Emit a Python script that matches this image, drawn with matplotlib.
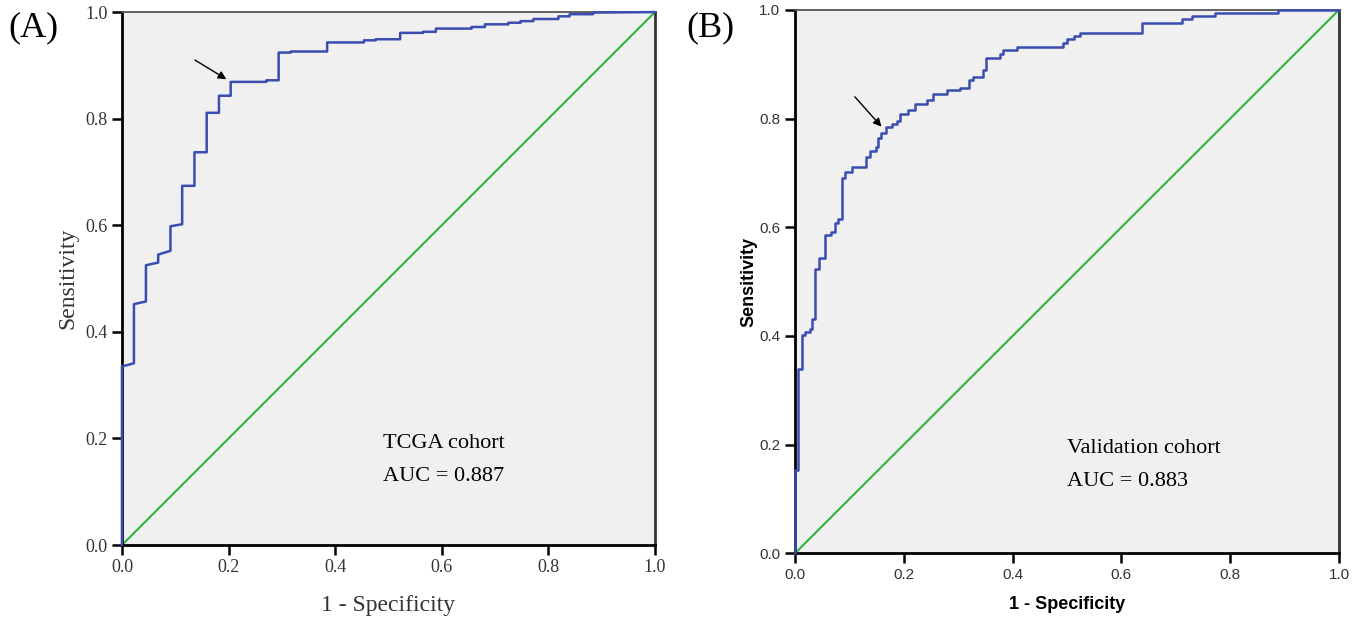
import numpy as np
import matplotlib
matplotlib.use("Agg")
from matplotlib import pyplot as plt

# ROC vertices, panel A (TCGA cohort)
fpr_a = [0.0, 0.0, 0.0225, 0.0225, 0.045, 0.045, 0.068, 0.068, 0.091, 0.091,
         0.113, 0.113, 0.136, 0.136, 0.159, 0.159, 0.182, 0.182, 0.204, 0.204,
         0.271, 0.271, 0.294, 0.294, 0.317, 0.317, 0.385, 0.385, 0.454, 0.454,
         0.476, 0.476, 0.522, 0.522, 0.565, 0.565, 0.589, 0.589, 0.656, 0.656,
         0.681, 0.681, 0.725, 0.725, 0.748, 0.748, 0.772, 0.772, 0.819, 0.819,
         0.840, 0.840, 0.884, 0.884, 1.0]
tpr_a = [0.0, 0.335, 0.341, 0.452, 0.457, 0.525, 0.530, 0.545, 0.552, 0.598,
         0.602, 0.674, 0.674, 0.737, 0.737, 0.811, 0.811, 0.843, 0.843, 0.869,
         0.869, 0.872, 0.872, 0.924, 0.924, 0.926, 0.926, 0.943, 0.943, 0.947,
         0.947, 0.949, 0.949, 0.961, 0.961, 0.963, 0.963, 0.969, 0.969, 0.972,
         0.972, 0.977, 0.977, 0.980, 0.980, 0.983, 0.983, 0.987, 0.987, 0.992,
         0.992, 0.996, 0.996, 0.999, 1.0]

# ROC vertices, panel B (validation cohort)
fpr_b = [0.0, 0.0, 0.006, 0.006, 0.012, 0.012, 0.018, 0.018, 0.028, 0.028,
         0.032, 0.032, 0.037, 0.037, 0.044, 0.044, 0.055, 0.055, 0.067, 0.067,
         0.0735, 0.0735, 0.080, 0.080, 0.086, 0.086, 0.092, 0.092, 0.104, 0.104,
         0.1305, 0.1305, 0.137, 0.137, 0.149, 0.149, 0.153, 0.153, 0.159, 0.159,
         0.167, 0.167, 0.178, 0.178, 0.187, 0.187, 0.1925, 0.1925, 0.208, 0.208,
         0.2206, 0.2206, 0.242, 0.242, 0.254, 0.254, 0.279, 0.279, 0.303, 0.303,
         0.320, 0.320, 0.328, 0.328, 0.346, 0.346, 0.352, 0.352, 0.377, 0.377,
         0.383, 0.383, 0.4075, 0.4075, 0.493, 0.493, 0.500, 0.500, 0.513, 0.513,
         0.524, 0.524, 0.637, 0.637, 0.711, 0.711, 0.729, 0.729, 0.772, 0.772,
         0.888, 0.888, 1.0]
tpr_b = [0.0, 0.153, 0.153, 0.339, 0.339, 0.402, 0.402, 0.408, 0.408, 0.412,
         0.412, 0.432, 0.432, 0.524, 0.524, 0.543, 0.543, 0.586, 0.586, 0.592,
         0.592, 0.607, 0.607, 0.615, 0.615, 0.690, 0.690, 0.702, 0.702, 0.710,
         0.710, 0.729, 0.729, 0.741, 0.741, 0.748, 0.748, 0.765, 0.765, 0.773,
         0.773, 0.784, 0.784, 0.790, 0.790, 0.796, 0.796, 0.808, 0.808, 0.816,
         0.816, 0.827, 0.827, 0.835, 0.835, 0.845, 0.845, 0.852, 0.852, 0.857,
         0.857, 0.871, 0.871, 0.877, 0.877, 0.889, 0.889, 0.911, 0.911, 0.919,
         0.919, 0.926, 0.926, 0.932, 0.932, 0.9395, 0.9395, 0.946, 0.946, 0.952,
         0.952, 0.957, 0.957, 0.975, 0.975, 0.9825, 0.9825, 0.9886, 0.9886, 0.9936,
         0.9936, 1.0, 1.0]

ticks = [0.0, 0.2, 0.4, 0.6, 0.8, 1.0]
tick_labels = ["0.0", "0.2", "0.4", "0.6", "0.8", "1.0"]

labels = ["(A)", "(B)"]
cohorts = ["TCGA cohort", "Validation cohort"]
aucs = ["AUC = 0.887", "AUC = 0.883"]
# arrow (tail, head) on each curve
arrows = [((0.137, 0.910), (0.196, 0.874)), ((0.110, 0.840), (0.159, 0.785))]

blue = "#3a4db0"
green = "#2fb53f"
bg = "#f0f0f0"
serif = "Liberation Serif"
sans = "Liberation Sans"

fig = plt.figure(figsize=(13.52, 6.19), dpi=100)
axA = fig.add_axes([0.0902, 0.1195, 0.3942, 0.861])
axB = fig.add_axes([0.5880, 0.1061, 0.4024, 0.878])

for i, (ax, fx, ty) in enumerate([(axA, fpr_a, tpr_a), (axB, fpr_b, tpr_b)]):
    ax.set_facecolor(bg)
    ax.plot([0, 1], [0, 1], color=green, lw=1.5, zorder=2)
    ax.plot(fx, ty, color=blue, lw=1.8, zorder=3, clip_on=False)
    ax.set_xlim(0, 1)
    ax.set_ylim(0, 1)
    ax.set_xticks(ticks)
    ax.set_yticks(ticks)
    ax.tick_params(direction="out", length=7, width=1.8, color="black")
    for s in ["left", "bottom"]:
        ax.spines[s].set_color("black")
        ax.spines[s].set_linewidth(2)
    ax.spines["top"].set_color("#555555")
    ax.spines["top"].set_linewidth(1.3)
    ax.spines["right"].set_color("#333333")
    ax.spines["right"].set_linewidth(2)
    t, h = arrows[i]
    ax.annotate("", xy=h, xytext=t,
                arrowprops=dict(arrowstyle="-|>", color="black", lw=1.0,
                                mutation_scale=12, shrinkA=0, shrinkB=0))

# panel A: serif type throughout
axA.set_xticklabels(tick_labels, fontfamily=serif, fontsize=13, color="#333333")
axA.set_yticklabels(tick_labels, fontfamily=serif, fontsize=13, color="#333333")
axA.tick_params(axis="x", pad=3)
axA.set_xlabel("1 - Specificity", fontfamily=serif, fontsize=17, color="#333333", labelpad=14)
axA.set_ylabel("Sensitivity", fontfamily=serif, fontsize=17, color="#333333", labelpad=5)
axA.text(0.49, 0.191, cohorts[0], fontfamily=serif, fontsize=16, va="center")
axA.text(0.49, 0.129, aucs[0], fontfamily=serif, fontsize=16, va="center")

# panel B: sans ticks, bold sans axis titles
axB.set_xticklabels(tick_labels, fontfamily=sans, fontsize=11, color="#333333")
axB.set_yticklabels(tick_labels, fontfamily=sans, fontsize=11, color="#333333")
axB.set_xlabel("1 - Specificity", fontfamily=sans, fontsize=13, fontweight="bold", labelpad=10)
axB.set_ylabel("Sensitivity", fontfamily=sans, fontsize=13, fontweight="bold", labelpad=1)
axB.text(0.50, 0.192, cohorts[1], fontfamily=serif, fontsize=16, va="center")
axB.text(0.50, 0.133, aucs[1], fontfamily=serif, fontsize=16, va="center")

fig.text(0.006, 0.955, labels[0], fontfamily=serif, fontsize=26, va="center")
fig.text(0.508, 0.955, labels[1], fontfamily=serif, fontsize=26, va="center")

fig.savefig("out.png", dpi=100, facecolor="white")
